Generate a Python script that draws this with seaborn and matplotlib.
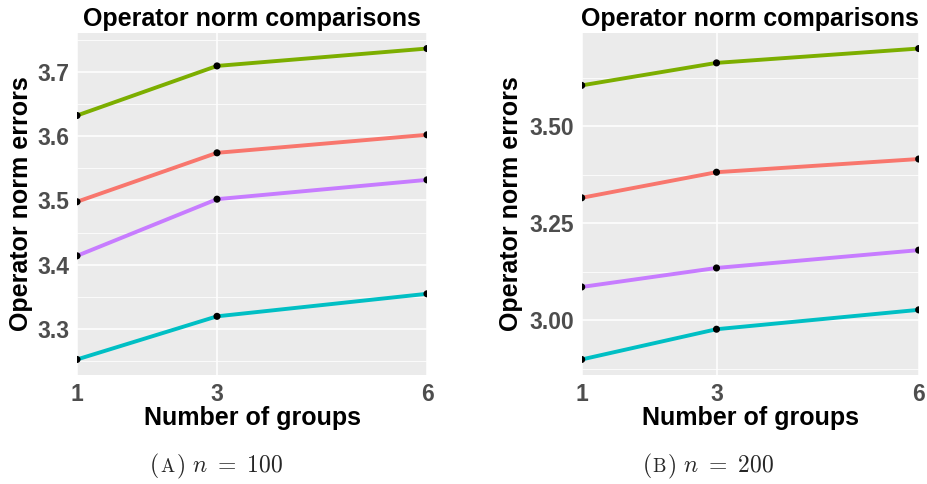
import numpy as np
import pandas as pd
import seaborn as sns
import matplotlib.pyplot as plt
from matplotlib.offsetbox import TextArea, HPacker, AnchoredOffsetbox

# Number of groups on the x axis
groups = [1, 3, 6]

# Operator norm errors, n = 100
err100_red = [3.498, 3.574, 3.602]
err100_green = [3.632, 3.709, 3.736]
err100_cyan = [3.253, 3.320, 3.355]
err100_purple = [3.414, 3.502, 3.532]

# Operator norm errors, n = 200
err200_red = [3.316, 3.382, 3.416]
err200_green = [3.606, 3.664, 3.701]
err200_cyan = [2.899, 2.977, 3.027]
err200_purple = [3.086, 3.135, 3.181]

series_names = ["red", "green", "cyan", "purple"]
palette = ["#F8766D", "#7CAE00", "#00BFC4", "#C77CFF"]

yticks100 = [3.3, 3.4, 3.5, 3.6, 3.7]
yminor100 = [3.25, 3.35, 3.45, 3.55, 3.65, 3.75]
yticks200 = [3.00, 3.25, 3.50]
yminor200 = [2.875, 3.125, 3.375, 3.625]
ytick_labels200 = ["3.00", "3.25", "3.50"]

title = "Operator norm comparisons"
xlab = "Number of groups"
ylab = "Operator norm errors"


def long_frame(values):
    rows = []
    for name, vals in zip(series_names, values):
        for g, v in zip(groups, vals):
            rows.append({"groups": g, "error": v, "series": name})
    return pd.DataFrame(rows)


df100 = long_frame([err100_red, err100_green, err100_cyan, err100_purple])
df200 = long_frame([err200_red, err200_green, err200_cyan, err200_purple])

sns.set_theme(style="darkgrid")
plt.rcParams["font.family"] = ["Liberation Sans", "DejaVu Sans"]
plt.rcParams["mathtext.fontset"] = "cm"

fig = plt.figure(figsize=(9.27, 4.84), dpi=100)
W, H = 927, 484
ax1 = fig.add_axes([77 / W, (H - 375) / H, 350 / W, 342 / H])
ax2 = fig.add_axes([581.7 / W, (H - 375) / H, 337 / W, 342 / H])

fs_title = 18
fs_lab = 18
fs_tick = 16.5
grey_txt = "#4D4D4D"


def draw_panel(ax, df, yticks, yminor, ylabels, label_x):
    ax.set_facecolor("#EBEBEB")
    sns.lineplot(data=df, x="groups", y="error", hue="series",
                 hue_order=series_names, palette=palette, linewidth=2.8,
                 legend=False, ax=ax, zorder=3)
    sns.scatterplot(data=df, x="groups", y="error", color="black", s=26,
                    edgecolor="none", legend=False, ax=ax, zorder=4)
    lo, hi = df["error"].min(), df["error"].max()
    pad = 0.05 * (hi - lo)
    ax.set_ylim(lo - pad, hi + pad)
    ax.set_xlim(min(groups), max(groups))
    ax.set_xticks(groups)
    ax.set_xticklabels([str(g) for g in groups])
    ax.set_yticks(yticks)
    ax.set_yticklabels(ylabels)
    ax.set_yticks(yminor, minor=True)
    ax.grid(which="major", color="white", linewidth=1.1)
    ax.grid(which="minor", axis="y", color="white", linewidth=0.55)
    ax.grid(which="minor", axis="x", visible=False)
    for sp in ax.spines.values():
        sp.set_visible(False)
    ax.tick_params(axis="both", which="major", length=3.5, width=1,
                   color="#333333", labelsize=fs_tick, labelcolor=grey_txt, pad=2)
    ax.tick_params(axis="both", which="minor", length=0)
    for lab in ax.get_xticklabels() + ax.get_yticklabels():
        lab.set_fontweight("bold")
    ax.set_title(title, fontsize=fs_title, fontweight="bold", color="black", pad=5)
    ax.set_xlabel(xlab, fontsize=fs_lab, fontweight="bold", color="black", labelpad=0)
    ax.set_ylabel(ylab, fontsize=fs_lab, fontweight="bold", color="black", va="center")
    ax.yaxis.set_label_coords(label_x, 0.5)


draw_panel(ax1, df100, yticks100, yminor100, [f"{t:.1f}" for t in yticks100], (21 - 77) / 350)
draw_panel(ax2, df200, yticks200, yminor200, ytick_labels200, (511 - 581.7) / 337)


def caption(letter, n, x_px):
    cfs = 17
    tp = dict(fontsize=cfs)
    parts = [
        TextArea(r"$($", textprops=tp),
        TextArea(r"$\mathrm{" + letter + "}$", textprops=dict(fontsize=cfs * 0.8)),
        TextArea(r"$)\ n\ {=}\ \mathrm{" + str(n) + "}$", textprops=tp),
    ]
    box = HPacker(children=parts, align="baseline", pad=0, sep=0.5)
    anchored = AnchoredOffsetbox(loc="center", child=box, pad=0, frameon=False,
                                 bbox_to_anchor=(x_px / W, 1 - 466 / H),
                                 bbox_transform=fig.transFigure, borderpad=0)
    fig.add_artist(anchored)


caption("A", 100, 216)
caption("B", 200, 708)

fig.savefig("out.png", dpi=100)
